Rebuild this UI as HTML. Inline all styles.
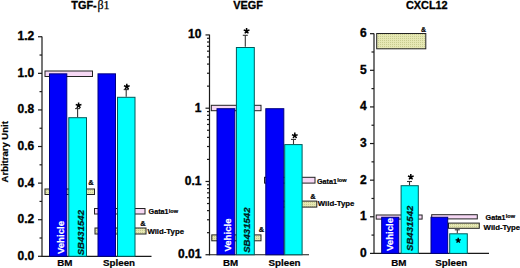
<!DOCTYPE html>
<html><head><meta charset="utf-8"><style>
html,body{margin:0;padding:0;background:#fff;width:520px;height:268px;overflow:hidden}
svg{display:block}
</style></head><body>
<svg width="520" height="268" viewBox="0 0 520 268"><defs><pattern id="kh" width="2" height="2" patternUnits="userSpaceOnUse"><rect width="2" height="2" fill="#e6e8b4"/><rect width="1" height="1" fill="#c8cc90"/></pattern></defs><line x1="42.00" y1="36.45" x2="42.00" y2="256.90" stroke="#1a1a1a" stroke-width="1.2"/>
<line x1="42.00" y1="256.30" x2="151.50" y2="256.30" stroke="#1a1a1a" stroke-width="1.2"/>
<line x1="38.00" y1="256.30" x2="42.00" y2="256.30" stroke="#1a1a1a" stroke-width="1.2"/>
<text x="34.30" y="259.70" font-size="12" font-weight="bold" text-anchor="end" fill="#000" font-family="Liberation Sans, sans-serif" stroke="#000" stroke-width="0.35">0.0</text>
<line x1="38.00" y1="219.71" x2="42.00" y2="219.71" stroke="#1a1a1a" stroke-width="1.2"/>
<text x="34.30" y="223.11" font-size="12" font-weight="bold" text-anchor="end" fill="#000" font-family="Liberation Sans, sans-serif" stroke="#000" stroke-width="0.35">0.2</text>
<line x1="38.00" y1="183.12" x2="42.00" y2="183.12" stroke="#1a1a1a" stroke-width="1.2"/>
<text x="34.30" y="186.52" font-size="12" font-weight="bold" text-anchor="end" fill="#000" font-family="Liberation Sans, sans-serif" stroke="#000" stroke-width="0.35">0.4</text>
<line x1="38.00" y1="146.52" x2="42.00" y2="146.52" stroke="#1a1a1a" stroke-width="1.2"/>
<text x="34.30" y="149.92" font-size="12" font-weight="bold" text-anchor="end" fill="#000" font-family="Liberation Sans, sans-serif" stroke="#000" stroke-width="0.35">0.6</text>
<line x1="38.00" y1="109.93" x2="42.00" y2="109.93" stroke="#1a1a1a" stroke-width="1.2"/>
<text x="34.30" y="113.33" font-size="12" font-weight="bold" text-anchor="end" fill="#000" font-family="Liberation Sans, sans-serif" stroke="#000" stroke-width="0.35">0.8</text>
<line x1="38.00" y1="73.34" x2="42.00" y2="73.34" stroke="#1a1a1a" stroke-width="1.2"/>
<text x="34.30" y="76.74" font-size="12" font-weight="bold" text-anchor="end" fill="#000" font-family="Liberation Sans, sans-serif" stroke="#000" stroke-width="0.35">1.0</text>
<line x1="38.00" y1="36.75" x2="42.00" y2="36.75" stroke="#1a1a1a" stroke-width="1.2"/>
<text x="34.30" y="40.15" font-size="12" font-weight="bold" text-anchor="end" fill="#000" font-family="Liberation Sans, sans-serif" stroke="#000" stroke-width="0.35">1.2</text>
<line x1="39.50" y1="238.00" x2="42.00" y2="238.00" stroke="#1a1a1a" stroke-width="1.2"/>
<line x1="39.50" y1="201.41" x2="42.00" y2="201.41" stroke="#1a1a1a" stroke-width="1.2"/>
<line x1="39.50" y1="164.82" x2="42.00" y2="164.82" stroke="#1a1a1a" stroke-width="1.2"/>
<line x1="39.50" y1="128.23" x2="42.00" y2="128.23" stroke="#1a1a1a" stroke-width="1.2"/>
<line x1="39.50" y1="91.64" x2="42.00" y2="91.64" stroke="#1a1a1a" stroke-width="1.2"/>
<line x1="39.50" y1="55.04" x2="42.00" y2="55.04" stroke="#1a1a1a" stroke-width="1.2"/>
<text transform="translate(8,182.4) rotate(-90)" font-size="9.5" font-weight="bold" stroke="#000" stroke-width="0.2" font-family="Liberation Sans, sans-serif">Arbitrary Unit</text>
<rect x="94.50" y="208.50" width="50.50" height="5.50" fill="#f6d8f4" stroke="#222" stroke-width="1"/>
<rect x="95.00" y="228.00" width="51.00" height="6.00" fill="url(#kh)" stroke="#222" stroke-width="1"/>
<rect x="45.00" y="189.00" width="49.50" height="5.50" fill="url(#kh)" stroke="#222" stroke-width="1"/>
<rect x="45.00" y="71.00" width="47.50" height="5.50" fill="#f6d8f4" stroke="#222" stroke-width="1"/>
<rect x="49.50" y="73.84" width="17.30" height="182.46" fill="#0000fa" stroke="#000080" stroke-width="1"/>
<rect x="68.80" y="117.70" width="17.70" height="138.60" fill="#00ffff" stroke="#005a5a" stroke-width="1"/>
<rect x="98.00" y="73.84" width="17.50" height="182.46" fill="#0000fa" stroke="#000080" stroke-width="1"/>
<rect x="117.50" y="97.30" width="17.50" height="159.00" fill="#00ffff" stroke="#005a5a" stroke-width="1"/>
<line x1="77.60" y1="108.60" x2="77.60" y2="117.20" stroke="#333" stroke-width="1.1"/>
<line x1="75.10" y1="108.60" x2="80.10" y2="108.60" stroke="#333" stroke-width="1.1"/>
<path d="M78.60 105.50L78.60 102.50M78.60 105.50L81.45 104.57M78.60 105.50L80.36 107.93M78.60 105.50L76.84 107.93M78.60 105.50L75.75 104.57" stroke="#000" stroke-width="1.5" stroke-linecap="butt" fill="none"/>
<line x1="126.20" y1="89.60" x2="126.20" y2="96.80" stroke="#333" stroke-width="1.1"/>
<line x1="123.70" y1="89.60" x2="128.70" y2="89.60" stroke="#333" stroke-width="1.1"/>
<path d="M126.80 86.70L126.80 83.70M126.80 86.70L129.65 85.77M126.80 86.70L128.56 89.13M126.80 86.70L125.04 89.13M126.80 86.70L123.95 85.77" stroke="#000" stroke-width="1.5" stroke-linecap="butt" fill="none"/>
<text x="91.00" y="185.30" font-size="7.5" font-weight="bold" text-anchor="middle" fill="#000" font-family="Liberation Sans, sans-serif" stroke="#000" stroke-width="0.2">&amp;</text>
<text x="143.00" y="225.50" font-size="7.5" font-weight="bold" text-anchor="middle" fill="#000" font-family="Liberation Sans, sans-serif" stroke="#000" stroke-width="0.2">&amp;</text>
<text x="148.60" y="214.00" font-size="7.2" font-weight="bold" text-anchor="start" fill="#000" font-family="Liberation Sans, sans-serif" stroke="#000" stroke-width="0.2">Gata1<tspan font-size='5.6' dy='-1.5' dx='0.2'>low</tspan></text>
<text x="147.40" y="233.80" font-size="7.8" font-weight="bold" text-anchor="start" fill="#000" font-family="Liberation Sans, sans-serif" stroke="#000" stroke-width="0.2">Wild-Type</text>
<text transform="translate(63.66,254.10) rotate(-90)" font-size="9.6" font-weight="bold" fill="#fff" stroke="#fff" stroke-width="0.25" font-family="Liberation Sans, sans-serif">Vehicle</text>
<text transform="translate(84.16,255.30) rotate(-90)" font-size="9.6" font-weight="bold" fill="#001818" stroke="#001818" stroke-width="0.25" font-family="Liberation Sans, sans-serif" font-style="italic">SB431542</text>
<text x="64.90" y="265.70" font-size="9.8" font-weight="bold" text-anchor="middle" fill="#000" font-family="Liberation Sans, sans-serif" stroke="#000" stroke-width="0.2">BM</text>
<text x="119.00" y="265.70" font-size="9.8" font-weight="bold" text-anchor="middle" fill="#000" font-family="Liberation Sans, sans-serif" stroke="#000" stroke-width="0.2">Spleen</text>
<text x="71.3" y="8.8" font-size="10.9" font-weight="bold" stroke="#000" stroke-width="0.3" font-family="Liberation Sans, sans-serif">TGF-<tspan font-family="Liberation Serif, serif" font-weight="normal" font-size="12" stroke-width="0.25" dx="0.8">β1</tspan></text>
<line x1="209.50" y1="34.63" x2="209.50" y2="255.34" stroke="#1a1a1a" stroke-width="1.2"/>
<line x1="209.50" y1="254.74" x2="309.00" y2="254.74" stroke="#1a1a1a" stroke-width="1.2"/>
<line x1="205.50" y1="34.93" x2="209.50" y2="34.93" stroke="#1a1a1a" stroke-width="1.2"/>
<text x="201.40" y="38.23" font-size="12" font-weight="bold" text-anchor="end" fill="#000" font-family="Liberation Sans, sans-serif" stroke="#000" stroke-width="0.35">10</text>
<line x1="205.50" y1="108.20" x2="209.50" y2="108.20" stroke="#1a1a1a" stroke-width="1.2"/>
<text x="201.40" y="111.50" font-size="12" font-weight="bold" text-anchor="end" fill="#000" font-family="Liberation Sans, sans-serif" stroke="#000" stroke-width="0.35">1</text>
<line x1="205.50" y1="181.47" x2="209.50" y2="181.47" stroke="#1a1a1a" stroke-width="1.2"/>
<text x="201.40" y="184.77" font-size="12" font-weight="bold" text-anchor="end" fill="#000" font-family="Liberation Sans, sans-serif" stroke="#000" stroke-width="0.35">0.1</text>
<line x1="205.50" y1="254.74" x2="209.50" y2="254.74" stroke="#1a1a1a" stroke-width="1.2"/>
<text x="201.40" y="258.04" font-size="12" font-weight="bold" text-anchor="end" fill="#000" font-family="Liberation Sans, sans-serif" stroke="#000" stroke-width="0.35">0.01</text>
<line x1="207.00" y1="232.68" x2="209.50" y2="232.68" stroke="#1a1a1a" stroke-width="1.2"/>
<line x1="207.00" y1="219.78" x2="209.50" y2="219.78" stroke="#1a1a1a" stroke-width="1.2"/>
<line x1="207.00" y1="210.63" x2="209.50" y2="210.63" stroke="#1a1a1a" stroke-width="1.2"/>
<line x1="207.00" y1="203.53" x2="209.50" y2="203.53" stroke="#1a1a1a" stroke-width="1.2"/>
<line x1="207.00" y1="197.72" x2="209.50" y2="197.72" stroke="#1a1a1a" stroke-width="1.2"/>
<line x1="207.00" y1="192.82" x2="209.50" y2="192.82" stroke="#1a1a1a" stroke-width="1.2"/>
<line x1="207.00" y1="188.57" x2="209.50" y2="188.57" stroke="#1a1a1a" stroke-width="1.2"/>
<line x1="207.00" y1="184.82" x2="209.50" y2="184.82" stroke="#1a1a1a" stroke-width="1.2"/>
<line x1="207.00" y1="159.41" x2="209.50" y2="159.41" stroke="#1a1a1a" stroke-width="1.2"/>
<line x1="207.00" y1="146.51" x2="209.50" y2="146.51" stroke="#1a1a1a" stroke-width="1.2"/>
<line x1="207.00" y1="137.36" x2="209.50" y2="137.36" stroke="#1a1a1a" stroke-width="1.2"/>
<line x1="207.00" y1="130.26" x2="209.50" y2="130.26" stroke="#1a1a1a" stroke-width="1.2"/>
<line x1="207.00" y1="124.45" x2="209.50" y2="124.45" stroke="#1a1a1a" stroke-width="1.2"/>
<line x1="207.00" y1="119.55" x2="209.50" y2="119.55" stroke="#1a1a1a" stroke-width="1.2"/>
<line x1="207.00" y1="115.30" x2="209.50" y2="115.30" stroke="#1a1a1a" stroke-width="1.2"/>
<line x1="207.00" y1="111.55" x2="209.50" y2="111.55" stroke="#1a1a1a" stroke-width="1.2"/>
<line x1="207.00" y1="86.14" x2="209.50" y2="86.14" stroke="#1a1a1a" stroke-width="1.2"/>
<line x1="207.00" y1="73.24" x2="209.50" y2="73.24" stroke="#1a1a1a" stroke-width="1.2"/>
<line x1="207.00" y1="64.09" x2="209.50" y2="64.09" stroke="#1a1a1a" stroke-width="1.2"/>
<line x1="207.00" y1="56.99" x2="209.50" y2="56.99" stroke="#1a1a1a" stroke-width="1.2"/>
<line x1="207.00" y1="51.18" x2="209.50" y2="51.18" stroke="#1a1a1a" stroke-width="1.2"/>
<line x1="207.00" y1="46.28" x2="209.50" y2="46.28" stroke="#1a1a1a" stroke-width="1.2"/>
<line x1="207.00" y1="42.03" x2="209.50" y2="42.03" stroke="#1a1a1a" stroke-width="1.2"/>
<line x1="207.00" y1="38.28" x2="209.50" y2="38.28" stroke="#1a1a1a" stroke-width="1.2"/>
<rect x="211.30" y="105.30" width="49.70" height="5.40" fill="#f6d8f4" stroke="#222" stroke-width="1"/>
<rect x="211.80" y="234.90" width="49.20" height="5.90" fill="url(#kh)" stroke="#222" stroke-width="1"/>
<rect x="264.50" y="177.30" width="50.50" height="5.80" fill="#f6d8f4" stroke="#222" stroke-width="1"/>
<rect x="270.50" y="201.10" width="46.30" height="6.00" fill="url(#kh)" stroke="#222" stroke-width="1"/>
<rect x="217.00" y="108.70" width="17.80" height="146.04" fill="#0000fa" stroke="#000080" stroke-width="1"/>
<rect x="236.40" y="47.50" width="17.90" height="207.24" fill="#00ffff" stroke="#005a5a" stroke-width="1"/>
<rect x="265.80" y="108.70" width="18.00" height="146.04" fill="#0000fa" stroke="#000080" stroke-width="1"/>
<rect x="284.70" y="144.60" width="17.40" height="110.14" fill="#00ffff" stroke="#005a5a" stroke-width="1"/>
<line x1="245.30" y1="35.30" x2="245.30" y2="46.80" stroke="#333" stroke-width="1.1"/>
<line x1="242.80" y1="35.30" x2="247.80" y2="35.30" stroke="#333" stroke-width="1.1"/>
<path d="M246.60 31.00L246.60 28.00M246.60 31.00L249.45 30.07M246.60 31.00L248.36 33.43M246.60 31.00L244.84 33.43M246.60 31.00L243.75 30.07" stroke="#000" stroke-width="1.5" stroke-linecap="butt" fill="none"/>
<line x1="293.50" y1="139.40" x2="293.50" y2="144.10" stroke="#333" stroke-width="1.1"/>
<line x1="291.00" y1="139.40" x2="296.00" y2="139.40" stroke="#333" stroke-width="1.1"/>
<path d="M294.80 135.60L294.80 132.60M294.80 135.60L297.65 134.67M294.80 135.60L296.56 138.03M294.80 135.60L293.04 138.03M294.80 135.60L291.95 134.67" stroke="#000" stroke-width="1.5" stroke-linecap="butt" fill="none"/>
<text x="261.40" y="232.40" font-size="7.5" font-weight="bold" text-anchor="middle" fill="#000" font-family="Liberation Sans, sans-serif" stroke="#000" stroke-width="0.2">&amp;</text>
<text x="313.00" y="198.80" font-size="7.5" font-weight="bold" text-anchor="middle" fill="#000" font-family="Liberation Sans, sans-serif" stroke="#000" stroke-width="0.2">&amp;</text>
<text x="317.00" y="183.60" font-size="7.2" font-weight="bold" text-anchor="start" fill="#000" font-family="Liberation Sans, sans-serif" stroke="#000" stroke-width="0.2">Gata1<tspan font-size='5.6' dy='-1.5' dx='0.2'>low</tspan></text>
<text x="317.80" y="205.70" font-size="7.8" font-weight="bold" text-anchor="start" fill="#000" font-family="Liberation Sans, sans-serif" stroke="#000" stroke-width="0.2">Wild-Type</text>
<text transform="translate(230.66,251.60) rotate(-90)" font-size="9.6" font-weight="bold" fill="#fff" stroke="#fff" stroke-width="0.25" font-family="Liberation Sans, sans-serif">Vehicle</text>
<text transform="translate(250.36,252.80) rotate(-90)" font-size="9.6" font-weight="bold" fill="#001818" stroke="#001818" stroke-width="0.25" font-family="Liberation Sans, sans-serif" font-style="italic">SB431542</text>
<text x="230.50" y="265.70" font-size="9.8" font-weight="bold" text-anchor="middle" fill="#000" font-family="Liberation Sans, sans-serif" stroke="#000" stroke-width="0.2">BM</text>
<text x="284.50" y="265.70" font-size="9.8" font-weight="bold" text-anchor="middle" fill="#000" font-family="Liberation Sans, sans-serif" stroke="#000" stroke-width="0.2">Spleen</text>
<text x="248.00" y="8.60" font-size="10.9" font-weight="bold" text-anchor="middle" fill="#000" font-family="Liberation Sans, sans-serif" stroke="#000" stroke-width="0.3">VEGF</text>
<line x1="374.00" y1="33.38" x2="374.00" y2="254.00" stroke="#1a1a1a" stroke-width="1.2"/>
<line x1="374.00" y1="253.40" x2="489.00" y2="253.40" stroke="#1a1a1a" stroke-width="1.2"/>
<line x1="370.00" y1="253.40" x2="374.00" y2="253.40" stroke="#1a1a1a" stroke-width="1.2"/>
<text x="366.60" y="256.80" font-size="12" font-weight="bold" text-anchor="end" fill="#000" font-family="Liberation Sans, sans-serif" stroke="#000" stroke-width="0.35">0</text>
<line x1="370.00" y1="216.78" x2="374.00" y2="216.78" stroke="#1a1a1a" stroke-width="1.2"/>
<text x="366.60" y="220.18" font-size="12" font-weight="bold" text-anchor="end" fill="#000" font-family="Liberation Sans, sans-serif" stroke="#000" stroke-width="0.35">1</text>
<line x1="370.00" y1="180.16" x2="374.00" y2="180.16" stroke="#1a1a1a" stroke-width="1.2"/>
<text x="366.60" y="183.56" font-size="12" font-weight="bold" text-anchor="end" fill="#000" font-family="Liberation Sans, sans-serif" stroke="#000" stroke-width="0.35">2</text>
<line x1="370.00" y1="143.54" x2="374.00" y2="143.54" stroke="#1a1a1a" stroke-width="1.2"/>
<text x="366.60" y="146.94" font-size="12" font-weight="bold" text-anchor="end" fill="#000" font-family="Liberation Sans, sans-serif" stroke="#000" stroke-width="0.35">3</text>
<line x1="370.00" y1="106.92" x2="374.00" y2="106.92" stroke="#1a1a1a" stroke-width="1.2"/>
<text x="366.60" y="110.32" font-size="12" font-weight="bold" text-anchor="end" fill="#000" font-family="Liberation Sans, sans-serif" stroke="#000" stroke-width="0.35">4</text>
<line x1="370.00" y1="70.30" x2="374.00" y2="70.30" stroke="#1a1a1a" stroke-width="1.2"/>
<text x="366.60" y="73.70" font-size="12" font-weight="bold" text-anchor="end" fill="#000" font-family="Liberation Sans, sans-serif" stroke="#000" stroke-width="0.35">5</text>
<line x1="370.00" y1="33.68" x2="374.00" y2="33.68" stroke="#1a1a1a" stroke-width="1.2"/>
<text x="366.60" y="37.08" font-size="12" font-weight="bold" text-anchor="end" fill="#000" font-family="Liberation Sans, sans-serif" stroke="#000" stroke-width="0.35">6</text>
<line x1="371.50" y1="235.09" x2="374.00" y2="235.09" stroke="#1a1a1a" stroke-width="1.2"/>
<line x1="371.50" y1="198.47" x2="374.00" y2="198.47" stroke="#1a1a1a" stroke-width="1.2"/>
<line x1="371.50" y1="161.85" x2="374.00" y2="161.85" stroke="#1a1a1a" stroke-width="1.2"/>
<line x1="371.50" y1="125.23" x2="374.00" y2="125.23" stroke="#1a1a1a" stroke-width="1.2"/>
<line x1="371.50" y1="88.61" x2="374.00" y2="88.61" stroke="#1a1a1a" stroke-width="1.2"/>
<line x1="371.50" y1="51.99" x2="374.00" y2="51.99" stroke="#1a1a1a" stroke-width="1.2"/>
<rect x="376.70" y="33.50" width="49.10" height="15.30" fill="url(#kh)" stroke="#222" stroke-width="1"/>
<text x="423.50" y="32.00" font-size="7" font-weight="bold" text-anchor="middle" fill="#000" font-family="Liberation Sans, sans-serif" stroke="#000" stroke-width="0.2">&amp;</text>
<rect x="376.20" y="215.00" width="45.90" height="4.10" fill="#f6d8f4" stroke="#222" stroke-width="1"/>
<rect x="431.70" y="214.70" width="45.60" height="4.20" fill="#f6d8f4" stroke="#222" stroke-width="1"/>
<rect x="448.50" y="223.10" width="30.80" height="5.20" fill="url(#kh)" stroke="#222" stroke-width="1"/>
<rect x="381.70" y="217.28" width="17.10" height="36.12" fill="#0000fa" stroke="#000080" stroke-width="1"/>
<rect x="401.10" y="185.70" width="17.20" height="67.70" fill="#00ffff" stroke="#005a5a" stroke-width="1"/>
<rect x="431.00" y="217.28" width="16.70" height="36.12" fill="#0000fa" stroke="#000080" stroke-width="1"/>
<rect x="449.70" y="233.80" width="17.60" height="19.60" fill="#00ffff" stroke="#005a5a" stroke-width="1"/>
<line x1="409.50" y1="181.50" x2="409.50" y2="185.20" stroke="#333" stroke-width="1.1"/>
<line x1="407.00" y1="181.50" x2="412.00" y2="181.50" stroke="#333" stroke-width="1.1"/>
<path d="M410.80 177.00L410.80 174.00M410.80 177.00L413.65 176.07M410.80 177.00L412.56 179.43M410.80 177.00L409.04 179.43M410.80 177.00L407.95 176.07" stroke="#000" stroke-width="1.5" stroke-linecap="butt" fill="none"/>
<line x1="457.30" y1="229.80" x2="457.30" y2="233.20" stroke="#333" stroke-width="1.1"/>
<line x1="454.80" y1="229.80" x2="459.80" y2="229.80" stroke="#333" stroke-width="1.1"/>
<path d="M458.20 240.50L458.20 237.80M458.20 240.50L460.77 239.67M458.20 240.50L459.79 242.68M458.20 240.50L456.61 242.68M458.20 240.50L455.63 239.67" stroke="#000" stroke-width="1.4" stroke-linecap="butt" fill="none"/>
<text x="485.60" y="219.60" font-size="7.2" font-weight="bold" text-anchor="start" fill="#000" font-family="Liberation Sans, sans-serif" stroke="#000" stroke-width="0.2">Gata1<tspan font-size='5.6' dy='-1.5' dx='0.2'>low</tspan></text>
<text x="483.60" y="229.90" font-size="7.8" font-weight="bold" text-anchor="start" fill="#000" font-family="Liberation Sans, sans-serif" stroke="#000" stroke-width="0.2">Wild-Type</text>
<text transform="translate(393.46,251.00) rotate(-90)" font-size="9.6" font-weight="bold" fill="#fff" stroke="#fff" stroke-width="0.25" font-family="Liberation Sans, sans-serif">Vehicle</text>
<text transform="translate(412.96,251.00) rotate(-90)" font-size="9.6" font-weight="bold" fill="#001818" stroke="#001818" stroke-width="0.25" font-family="Liberation Sans, sans-serif" font-style="italic">SB431542</text>
<text x="398.80" y="265.70" font-size="9.8" font-weight="bold" text-anchor="middle" fill="#000" font-family="Liberation Sans, sans-serif" stroke="#000" stroke-width="0.2">BM</text>
<text x="451.30" y="265.70" font-size="9.8" font-weight="bold" text-anchor="middle" fill="#000" font-family="Liberation Sans, sans-serif" stroke="#000" stroke-width="0.2">Spleen</text>
<text x="426.80" y="8.60" font-size="10.9" font-weight="bold" text-anchor="middle" fill="#000" font-family="Liberation Sans, sans-serif" stroke="#000" stroke-width="0.3">CXCL12</text></svg>
</body></html>
